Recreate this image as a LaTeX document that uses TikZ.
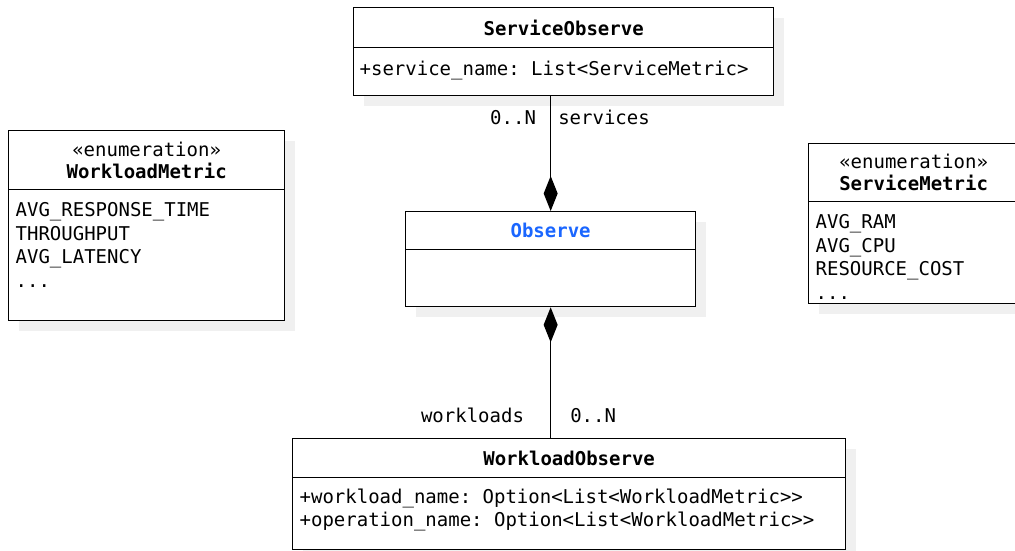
\documentclass[tikz,border=0pt]{standalone}
\usepackage{fontspec}
\setmonofont{DejaVu Sans Mono}
\usepackage{tikz}
\usetikzlibrary{arrows.meta,positioning,shadows}
\usepackage{xcolor}
\definecolor{classblue}{RGB}{26,102,255}

\begin{document}
\begin{tikzpicture}[
				x=1pt, y=1pt,
				line width=1.3pt,
				font=\ttfamily\fontsize{19}{23.5}\selectfont,
				box/.style = {draw, fill=white, inner sep=0pt, drop shadow={shadow xshift=10pt, shadow yshift=-10pt, fill=black!6, opacity=1}},
				head/.style = {box, anchor=north west, align=center, font=\ttfamily\fontsize{19}{22}\selectfont},
				body/.style = {box},
				items/.style = {inner sep=0pt, align=left},
				lbl/.style = {inner sep=0pt},
				comp/.style={-{Diamond[length=35pt, width=14pt]}}
				]
				\useasboundingbox (0,0) rectangle (1015,-550);
				
				\node[head, minimum width=420, minimum height=40] (so) at (353,-7) {\textbf{ServiceObserve}};
				\node[body, minimum width=420, minimum height=48, below=-1.3pt of so] (sobody) {};
				\node[items, below right=13pt and 6pt of sobody.north west] (soitems) {+service\_name: List<ServiceMetric>};
				
				\node[head, minimum width=276, minimum height=59] (wm) at (8,-130) {«enumeration»\\\textbf{WorkloadMetric}};
				\node[body, minimum width=276, minimum height=131, below=-1.3pt of wm] (wmbody) {};
				\node[items, below right=13pt and 7pt of wmbody.north west] (wmitems) {AVG\_RESPONSE\_TIME\\THROUGHPUT\\AVG\_LATENCY\\...};
				
				\node[head, minimum width=210, minimum height=58] (sm) at (808,-143) {«enumeration»\\\textbf{ServiceMetric}};
				\node[body, minimum width=210, minimum height=102, below=-1.3pt of sm] (smbody) {};
				\node[items, below right=13pt and 7pt of smbody.north west] (smitems) {AVG\_RAM\\AVG\_CPU\\RESOURCE\_COST\\...};
				
				\node[head, minimum width=290, minimum height=38] (ob) at (405,-211) {\textcolor{classblue}{\textbf{Observe}}};
				\node[body, minimum width=290, minimum height=57, below=-1.3pt of ob] (obbody) {};
				
				\node[head, minimum width=553, minimum height=39] (wo) at (292,-438) {\textbf{WorkloadObserve}};
				\node[body, minimum width=553, minimum height=72, below=-1.3pt of wo] (wobody) {};
				\node[items, below right=11pt and 7pt of wobody.north west] (woitems) {+workload\_name: Option<List<WorkloadMetric>{}>\\+operation\_name: Option<List<WorkloadMetric>{}>};
				
				\draw[comp] (sobody.south -| ob.north) -- node[lbl, pos=0.25, anchor=base east, xshift=-14pt] {0..N} node[lbl, pos=0.25, anchor=base west, xshift=7pt] {services} (ob.north);
				\draw[comp] (wo.north -| obbody.south) -- node[lbl, pos=0.12, anchor=base east, xshift=-26pt] {workloads} node[lbl, pos=0.12, anchor=base west, xshift=19pt] {0..N} (obbody.south);
			\end{tikzpicture}
\end{document}
